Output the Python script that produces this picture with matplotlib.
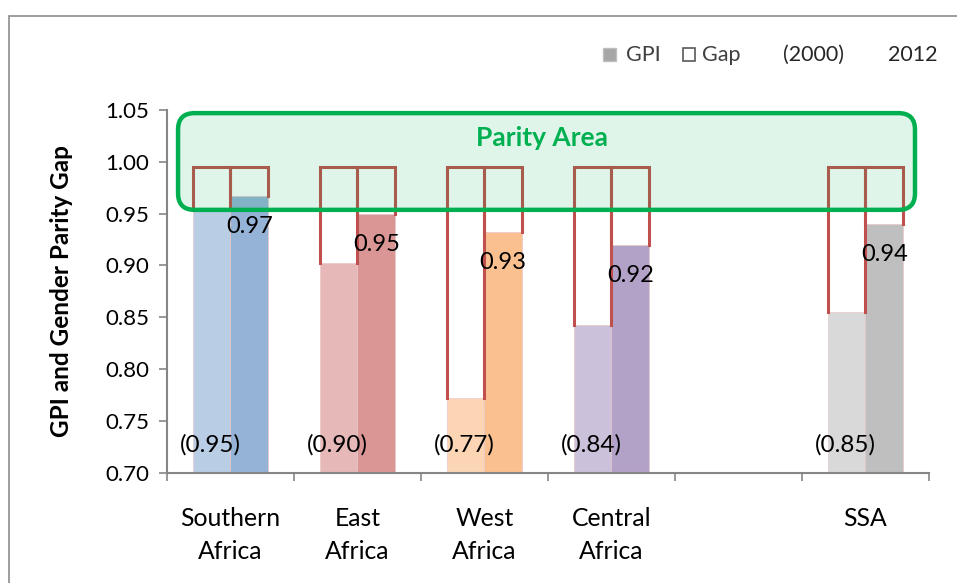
import matplotlib
matplotlib.use("Agg")
from matplotlib import pyplot as plt
from matplotlib.patches import FancyBboxPatch, Rectangle
import numpy as np

plt.rcParams['font.family'] = ['Lato', 'DejaVu Sans']

regions = ["Southern\nAfrica", "East\nAfrica", "West\nAfrica", "Central\nAfrica", "", "SSA"]
gpi_2000 = [0.953, 0.902, 0.772, 0.842, None, 0.855]
gpi_2012 = [0.967, 0.950, 0.932, 0.920, None, 0.940]
labels_2000 = ["(0.95)", "(0.90)", "(0.77)", "(0.84)", "", "(0.85)"]
labels_2012 = ["0.97", "0.95", "0.93", "0.92", "", "0.94"]
colors_2000 = ["#b9cde5", "#e6b9b8", "#fcd5b5", "#ccc1da", None, "#d9d9d9"]
colors_2012 = ["#95b3d7", "#d99694", "#fac090", "#b3a2c7", None, "#bfbfbf"]
parity_top = 0.995

fig = plt.figure(figsize=(9.57, 5.83), dpi=100)
ax = fig.add_axes([0.1745, 0.1895, 0.7962, 0.6218])

# outer chart border (only top/left visible in the crop)
fig.patches.append(Rectangle((9 / 957, -0.1), 1.2, 1 - 16 / 583 + 0.1,
                             transform=fig.transFigure, fill=False,
                             edgecolor="#8c8c8c", linewidth=1.2))

w = 0.295
x = np.arange(len(regions))
gap_red = "#c0504d"
for i in range(len(regions)):
    if gpi_2000[i] is None:
        continue
    for off, val, col in [(-w / 2, gpi_2000[i], colors_2000[i]),
                          (w / 2, gpi_2012[i], colors_2012[i])]:
        ax.bar(x[i] + off, val - 0.7, width=w, bottom=0.7, color=col,
               edgecolor="#e8c8c8", linewidth=0.5, zorder=2)
        x0, x1 = x[i] + off - w / 2, x[i] + off + w / 2
        ax.plot([x0, x0, x1, x1], [val, parity_top, parity_top, val],
                color=gap_red, linewidth=2.2, zorder=3,
                solid_joinstyle="miter")
    ax.text(x[i] - w / 2 - 0.01, 0.727, labels_2000[i], ha="center",
            va="center", fontsize=17.5, zorder=5)
    ax.annotate(labels_2012[i], (x[i] + w / 2, gpi_2012[i]),
                xytext=(0, -22), textcoords="offset points",
                ha="center", va="center", fontsize=17, zorder=5)

# parity area box
box = FancyBboxPatch((-0.413, 0.9536), 5.803, 0.0934,
                     boxstyle="round,pad=0,rounding_size=0.13",
                     mutation_aspect=127 / 1037,
                     facecolor=(0, 0.69, 0.314, 0.125), edgecolor="#00b050",
                     linewidth=3.2, zorder=4)
ax.add_patch(box)
ax.text(2.45, 1.0225, "Parity Area", ha="center", va="center",
        fontsize=19, fontweight="bold", color="#00b050", zorder=5)

ax.set_xlim(-0.5, 5.5)
ax.set_ylim(0.70, 1.05)
ax.set_yticks(np.arange(0.70, 1.051, 0.05))
ax.set_yticklabels([f"{v:.2f}" for v in np.arange(0.70, 1.051, 0.05)])
ax.set_xticks(x)
ax.set_xticklabels(regions, linespacing=1.5)
ax.set_xticks(np.arange(-0.5, 5.6, 1), minor=True)
ax.tick_params(axis="x", which="major", length=0, pad=25, labelsize=17.8)
ax.tick_params(axis="x", which="minor", length=6, color="#868686", width=1.2)
ax.tick_params(axis="y", length=6, color="#868686", width=1.2, labelsize=16, pad=7)
for s in ["top", "right"]:
    ax.spines[s].set_visible(False)
for s in ["left", "bottom"]:
    ax.spines[s].set_color("#868686")
    ax.spines[s].set_linewidth(1.5)
ax.set_ylabel("GPI and Gender Parity Gap", fontsize=17.5, fontweight="bold")
ax.yaxis.set_label_coords(73 / 957, 1 - 291 / 583, transform=fig.transFigure)

# legend
fy = 1 - 55 / 583
fig.patches.append(Rectangle((603 / 957, 1 - 61 / 583), 13 / 957, 13 / 583,
                             transform=fig.transFigure, facecolor="#a6a6a6",
                             edgecolor="#bfbfbf"))
fig.text(626 / 957, fy, "GPI", fontsize=15.5, va="center", color="#404040")
fig.patches.append(Rectangle((683 / 957, 1 - 61 / 583), 12 / 957, 13 / 583,
                             transform=fig.transFigure, fill=False,
                             edgecolor="#595959", linewidth=1.2))
fig.text(702 / 957, fy, "Gap", fontsize=15.5, va="center", color="#404040")
fig.text(783 / 957, fy, "(2000)", fontsize=15.5, va="center", color="#262626")
fig.text(888 / 957, fy, "2012", fontsize=15.5, va="center", color="#262626")

fig.savefig("out.png", dpi=100)
